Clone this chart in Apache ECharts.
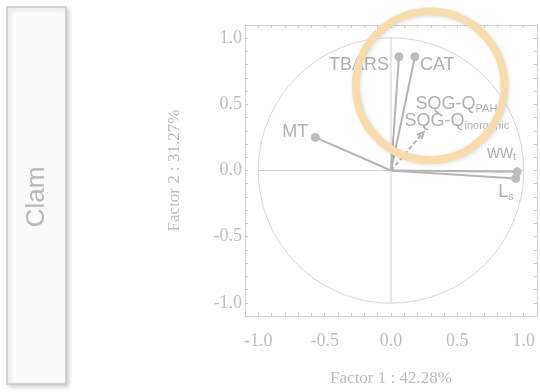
<!DOCTYPE html>
<html><head><meta charset="utf-8">
<script src="https://cdn.jsdelivr.net/npm/echarts@6/dist/echarts.min.js"></script>
<style>html,body{margin:0;padding:0;background:#fff}#c{width:540px;height:392px}</style>
</head><body><div id="c"></div>
<script>
// ---- data ----
const variables = ['TBARS', 'CAT', 'MT', 'ww_t', 'L_s'];
const factor1 = [0.06, 0.18, -0.57, 0.95, 0.94];
const factor2 = [0.86, 0.86, 0.25, -0.01, -0.06];
const suppVariables = ['SQG-Q_PAH', 'SQG-Q_inorganic'];
const suppFactor1 = [0.245, 0.245];
const suppFactor2 = [0.29, 0.29];
const tickLabels = ['-1.0', '-0.5', '0.0', '0.5', '1.0'];
const xAxisTitle = 'Factor 1 : 42.28%';
const yAxisTitle = 'Factor 2 : 31.27%';
const panelTitle = 'Clam';
const highlightCenter = [0.295, 0.64];
const highlightRadius = [0.56];

// ---- styles ----
const labelStyle = {
  'TBARS': {dx: -10, dy: 8, align: 'right'},
  'CAT': {dx: 5, dy: 8, align: 'left'},
  'MT': {dx: -7, dy: -5, align: 'right'},
  'ww_t': {dx: -1, dy: -19, align: 'right'},
  'L_s': {dx: -2, dy: 14, align: 'right'},
  'SQG-Q_PAH': {dx: -8, dy: -28, align: 'left'},
  'SQG-Q_inorganic': {dx: -19, dy: -11, align: 'left'}
};
const TXT = '#b0b0b0';
const SANS = 'Liberation Sans, Arial, sans-serif';
const SERIF = 'Liberation Serif, Times New Roman, serif';
const rich = {
  m: {fontSize: 18, fontFamily: SANS, color: TXT, lineHeight: 20},
  s: {fontSize: 11, fontFamily: SANS, color: TXT, lineHeight: 12, verticalAlign: 'bottom'}
};
function richName(n) {
  const i = n.indexOf('_');
  return i < 0 ? '{m|' + n + '}' : '{m|' + n.slice(0, i) + '}{s|' + n.slice(i + 1) + '}';
}
function textEl(name, p) {
  const st = labelStyle[name];
  return {type: 'text', x: p[0] + st.dx, y: p[1] + st.dy, z2: 5,
    style: {text: richName(name), rich: rich, fill: TXT, align: st.align, verticalAlign: 'middle', fontFamily: SANS, fontSize: 18}};
}

const fmt = v => {
  const hit = tickLabels.find(t => Math.abs(Number(t) - v) < 1e-6);
  return hit || '';
};
const FRAME = '#d2d2d2';
function axisBase(pos, showLabel) {
  return {
    type: 'value', min: -1.1, max: 1.1, interval: 0.1, position: pos,
    splitLine: {show: false},
    axisLine: {show: true, onZero: false, lineStyle: {color: FRAME, width: 1}},
    axisTick: {show: true, inside: true, length: 3, lineStyle: {color: '#c8c8c8'}},
    axisLabel: {show: showLabel, formatter: fmt, color: '#bdbdbd', fontFamily: SERIF, fontSize: 18}
  };
}
const xb = axisBase('bottom', true);
xb.axisLabel.margin = 16;
xb.name = xAxisTitle; xb.nameLocation = 'middle'; xb.nameGap = 54;
xb.nameTextStyle = {color: '#bdbdbd', fontFamily: SERIF, fontSize: 17};
const yl = axisBase('left', true);
yl.axisLabel.margin = 3;
yl.name = yAxisTitle; yl.nameLocation = 'middle'; yl.nameGap = 62;
yl.nameTextStyle = {color: '#bdbdbd', fontFamily: SERIF, fontSize: 17};

const chart = echarts.init(document.getElementById('c'), null, {renderer: 'canvas'});
chart.setOption({
  animation: false,
  backgroundColor: '#ffffff',
  grid: {left: 245, top: 25, width: 294, height: 294},
  xAxis: [xb, axisBase('top', false)],
  yAxis: [yl, axisBase('right', false)],
  graphic: [
    {type: 'rect', shape: {x: 7, y: 7, width: 59, height: 377},
      style: {fill: '#fafafa', stroke: '#c9c9c9', lineWidth: 1.5, shadowBlur: 4, shadowOffsetX: 2, shadowOffsetY: 2, shadowColor: 'rgba(0,0,0,0.18)'}},
    {type: 'text', x: 37, y: 197, rotation: Math.PI / 2,
      style: {text: panelTitle, fill: '#b8b8b8', fontFamily: SANS, fontSize: 26, align: 'center', verticalAlign: 'middle'}}
  ],
  series: [
    { // unit circle and zero lines
      type: 'custom', xAxisIndex: 0, yAxisIndex: 0, silent: true, z: 1,
      data: [[0, 0]],
      renderItem: (params, api) => {
        const o = api.coord([0, 0]);
        const r = api.size([1, 0])[0];
        const a = api.coord([-1, 0]), b = api.coord([1, 0]), c = api.coord([0, 1]), d = api.coord([0, -1]);
        return {type: 'group', children: [
          {type: 'circle', shape: {cx: o[0], cy: o[1], r: r}, style: {fill: 'none', stroke: '#d6d6d6', lineWidth: 1}},
          {type: 'line', shape: {x1: a[0], y1: a[1], x2: b[0], y2: b[1]}, style: {stroke: '#d0d0d0', lineWidth: 1}},
          {type: 'line', shape: {x1: c[0], y1: c[1], x2: d[0], y2: d[1]}, style: {stroke: '#d0d0d0', lineWidth: 1}}
        ]};
      }
    },
    { // supplementary variables (dashed arrows)
      type: 'custom', xAxisIndex: 0, yAxisIndex: 0, silent: true, z: 2,
      data: suppFactor1.map((x, i) => [x, suppFactor2[i]]),
      renderItem: (params, api) => {
        const o = api.coord([0, 0]);
        const p = api.coord([api.value(0), api.value(1)]);
        const ang = Math.atan2(p[1] - o[1], p[0] - o[0]);
        const L = 7, w = 0.45;
        const h1 = [p[0] - L * Math.cos(ang - w), p[1] - L * Math.sin(ang - w)];
        const h2 = [p[0] - L * Math.cos(ang + w), p[1] - L * Math.sin(ang + w)];
        return {type: 'group', children: [
          {type: 'line', shape: {x1: o[0], y1: o[1], x2: p[0], y2: p[1]}, style: {stroke: '#b5b5b5', lineWidth: 1.8, lineDash: [4, 3]}},
          {type: 'polyline', shape: {points: [h1, p, h2]}, style: {stroke: '#b5b5b5', lineWidth: 1.8, fill: 'none'}},
          textEl(suppVariables[params.dataIndex], p)
        ]};
      }
    },
    { // active variables
      type: 'custom', xAxisIndex: 0, yAxisIndex: 0, silent: true, z: 3,
      data: factor1.map((x, i) => [x, factor2[i]]),
      renderItem: (params, api) => {
        const o = api.coord([0, 0]);
        const p = api.coord([api.value(0), api.value(1)]);
        return {type: 'group', children: [
          {type: 'line', shape: {x1: o[0], y1: o[1], x2: p[0], y2: p[1]}, style: {stroke: '#b5b5b5', lineWidth: 2}},
          {type: 'circle', shape: {cx: p[0], cy: p[1], r: 4.5}, style: {fill: '#bdbdbd'}},
          textEl(variables[params.dataIndex], p)
        ]};
      }
    },
    { // highlight ring
      type: 'custom', xAxisIndex: 0, yAxisIndex: 0, silent: true, z: 10,
      data: [[highlightCenter[0], highlightCenter[1], highlightRadius[0]]],
      renderItem: (params, api) => {
        const c = api.coord([api.value(0), api.value(1)]);
        const r = api.size([api.value(2), 0])[0];
        return {type: 'circle', shape: {cx: c[0], cy: c[1], r: r},
          style: {fill: 'none', stroke: '#f7dcae', lineWidth: 8, shadowBlur: 4, shadowColor: 'rgba(0,0,0,0.12)', shadowOffsetX: 1, shadowOffsetY: 1}};
      }
    }
  ]
});
</script>
</body></html>
